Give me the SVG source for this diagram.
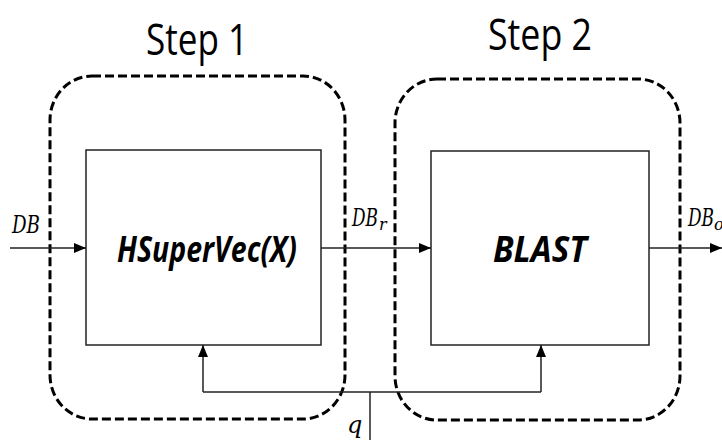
<svg xmlns="http://www.w3.org/2000/svg" width="722" height="440" viewBox="0 0 722 440">
  <style>
    .stage { fill: none; stroke: #000; stroke-width: 3; stroke-dasharray: 9 4; }
    .block { fill: #fff; stroke: #222; stroke-width: 1.5; }
    .wire { fill: none; stroke: #222; stroke-width: 1.5; }
    .title { font-family: "Open Sans", "Liberation Sans", sans-serif; font-size: 44px; fill: #000; }
    .name { font-family: "Open Sans", "Liberation Sans", sans-serif; font-size: 35px; font-weight: bold; font-style: italic; fill: #000; }
    .sym { font-family: "DejaVu Serif", "Liberation Serif", serif; font-style: italic; font-size: 24px; fill: #000; }
    .sub { font-family: "DejaVu Serif", "Liberation Serif", serif; font-style: italic; font-size: 16px; fill: #000; }
  </style>
  <defs>
    <marker id="head" viewBox="0 0 12 10" refX="12" refY="5" markerWidth="12" markerHeight="10" markerUnits="userSpaceOnUse" orient="auto">
      <path d="M0,0 L12,5 L0,10 Z" fill="#000"/>
    </marker>
  </defs>

  <g id="step1">
    <rect class="stage" x="50" y="76" width="295" height="343" rx="42" ry="44"/>
    <text class="title" x="146" y="55" textLength="102" lengthAdjust="spacingAndGlyphs">Step 1</text>
  </g>
  <g id="step2">
    <rect class="stage" x="395" y="79" width="285" height="341" rx="42" ry="44"/>
    <text class="title" x="488" y="50" textLength="104" lengthAdjust="spacingAndGlyphs">Step 2</text>
  </g>

  <g id="hsupervec">
    <rect class="block" x="86" y="150" width="235" height="195"/>
    <text class="name" x="117" y="262" textLength="180" lengthAdjust="spacingAndGlyphs">HSuperVec(X)</text>
  </g>
  <g id="blast">
    <rect class="block" x="431" y="151" width="218" height="194"/>
    <text class="name" x="493" y="262" textLength="94" lengthAdjust="spacingAndGlyphs">BLAST</text>
  </g>

  <g id="connectors">
    <line class="wire" x1="10" y1="248" x2="86" y2="248" marker-end="url(#head)"/>
    <line class="wire" x1="321" y1="248" x2="431" y2="248" marker-end="url(#head)"/>
    <line class="wire" x1="649" y1="248" x2="722" y2="248" marker-end="url(#head)"/>
    <polyline class="wire" points="203,392 203,345" marker-end="url(#head)"/>
    <polyline class="wire" points="541,392 541,345" marker-end="url(#head)"/>
    <line class="wire" x1="203" y1="392" x2="541" y2="392"/>
    <line class="wire" x1="370" y1="392" x2="370" y2="440"/>
  </g>

  <g id="labels">
    <text class="sym" x="12" y="233" textLength="28" lengthAdjust="spacingAndGlyphs">DB</text>
    <text class="sym" x="352" y="226" textLength="26" lengthAdjust="spacingAndGlyphs">DB</text>
    <text class="sub" x="379" y="230">r</text>
    <text class="sym" x="688" y="226" textLength="26" lengthAdjust="spacingAndGlyphs">DB</text>
    <text class="sub" x="714" y="230">o</text>
    <text class="sym" x="347" y="433">q</text>
  </g>
</svg>
